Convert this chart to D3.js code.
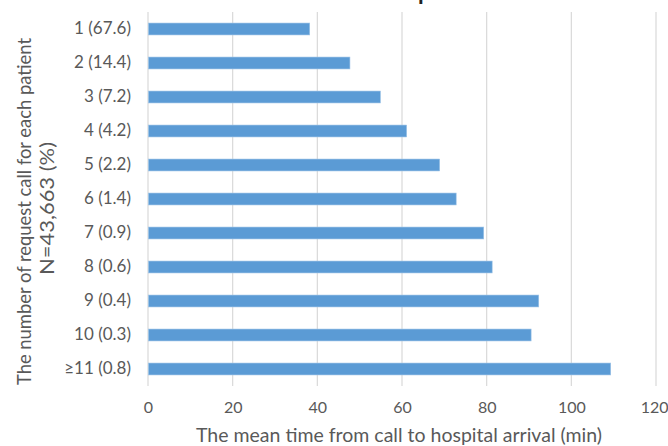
<!DOCTYPE html>
<html>
<head>
<meta charset="utf-8">
<script src="https://cdn.jsdelivr.net/npm/d3@7"></script>
<style>
  html, body { margin: 0; padding: 0; background: #fff; }
  svg { display: block; font-family: Lato, "Open Sans", sans-serif; }
</style>
</head>
<body>
<svg id="chart" width="668" height="446"></svg>
<script>
// Number of request calls per patient, with share of patients (%)
const categories = ["1 (67.6)", "2 (14.4)", "3 (7.2)", "4 (4.2)", "5 (2.2)", "6 (1.4)",
                    "7 (0.9)", "8 (0.6)", "9 (0.4)", "10 (0.3)", "≥11 (0.8)"];
// Mean time from call to hospital arrival (min)
const meanTimes = [38.2, 47.7, 54.9, 61.1, 68.9, 72.8, 79.3, 81.3, 92.3, 90.5, 109.3];
const xTicks = [0, 20, 40, 60, 80, 100, 120];
const xTitle = "The mean time from call to hospital arrival (min)";
const yTitleLines = ["The number of request call for each patient", "N=43,663 (%)"];

const svg = d3.select("#chart");
const plot = { left: 148, right: 656, top: 12, bottom: 386 };
const textGrey = "#595959";

const x = d3.scaleLinear().domain([0, 120]).range([plot.left, plot.right]);
const y = d3.scaleBand().domain(categories).range([plot.top, plot.bottom])
  .paddingInner(0.65).paddingOuter(0.325);

// Title glyph at the top edge (mostly above the frame)
svg.append("text")
  .attr("x", 418).attr("y", 0)
  .attr("font-size", 23).attr("font-weight", "bold").attr("fill", "#222")
  .text("p");

// Vertical gridlines
svg.append("g").selectAll("line").data(xTicks).join("line")
  .attr("x1", d => x(d)).attr("x2", d => x(d))
  .attr("y1", plot.top).attr("y2", plot.bottom)
  .attr("stroke", "#D9D9D9").attr("stroke-width", 1.2);

// Bars
svg.append("g").selectAll("rect").data(categories).join("rect")
  .attr("x", x(0) + 0.5)
  .attr("y", d => y(d))
  .attr("width", (d, i) => x(meanTimes[i]) - x(0) - 0.5)
  .attr("height", y.bandwidth())
  .attr("fill", "#5B9BD5")
  .attr("stroke", "#9DC3E6").attr("stroke-width", 0.6);

// X axis tick labels
const xAxis = d3.axisBottom(x).tickValues(xTicks).tickSize(0).tickPadding(0);
const gx = svg.append("g").attr("transform", `translate(0, ${plot.bottom + 16})`).call(xAxis);
gx.select(".domain").remove();
gx.selectAll("text").attr("font-size", 16).attr("fill", textGrey)
  .attr("font-family", "Lato, 'Open Sans', sans-serif").attr("dy", "0.71em");
gx.selectAll(".tick").filter(d => d === 120).select("text").attr("text-anchor", "end").attr("dx", 12);

// Y axis tick labels
const yAxis = d3.axisLeft(y).tickSize(0).tickPadding(0);
const gy = svg.append("g").attr("transform", `translate(${plot.left - 17}, 0)`).call(yAxis);
gy.select(".domain").remove();
gy.selectAll("text").attr("font-size", 17).attr("fill", textGrey)
  .attr("font-family", "Lato, 'Open Sans', sans-serif");

// Axis titles
svg.append("text")
  .attr("x", 196).attr("y", 442)
  .attr("font-size", 19).attr("fill", textGrey)
  .attr("textLength", 406).attr("lengthAdjust", "spacingAndGlyphs")
  .text(xTitle);

const yt = svg.append("text")
  .attr("transform", "rotate(-90)")
  .attr("font-size", 19).attr("fill", textGrey);
yt.append("tspan").attr("x", -385).attr("y", 31)
  .attr("textLength", 347).attr("lengthAdjust", "spacingAndGlyphs")
  .text(yTitleLines[0]);
yt.append("tspan").attr("x", -275).attr("y", 54)
  .attr("textLength", 133).attr("lengthAdjust", "spacingAndGlyphs")
  .text(yTitleLines[1]);
</script>
</body>
</html>
